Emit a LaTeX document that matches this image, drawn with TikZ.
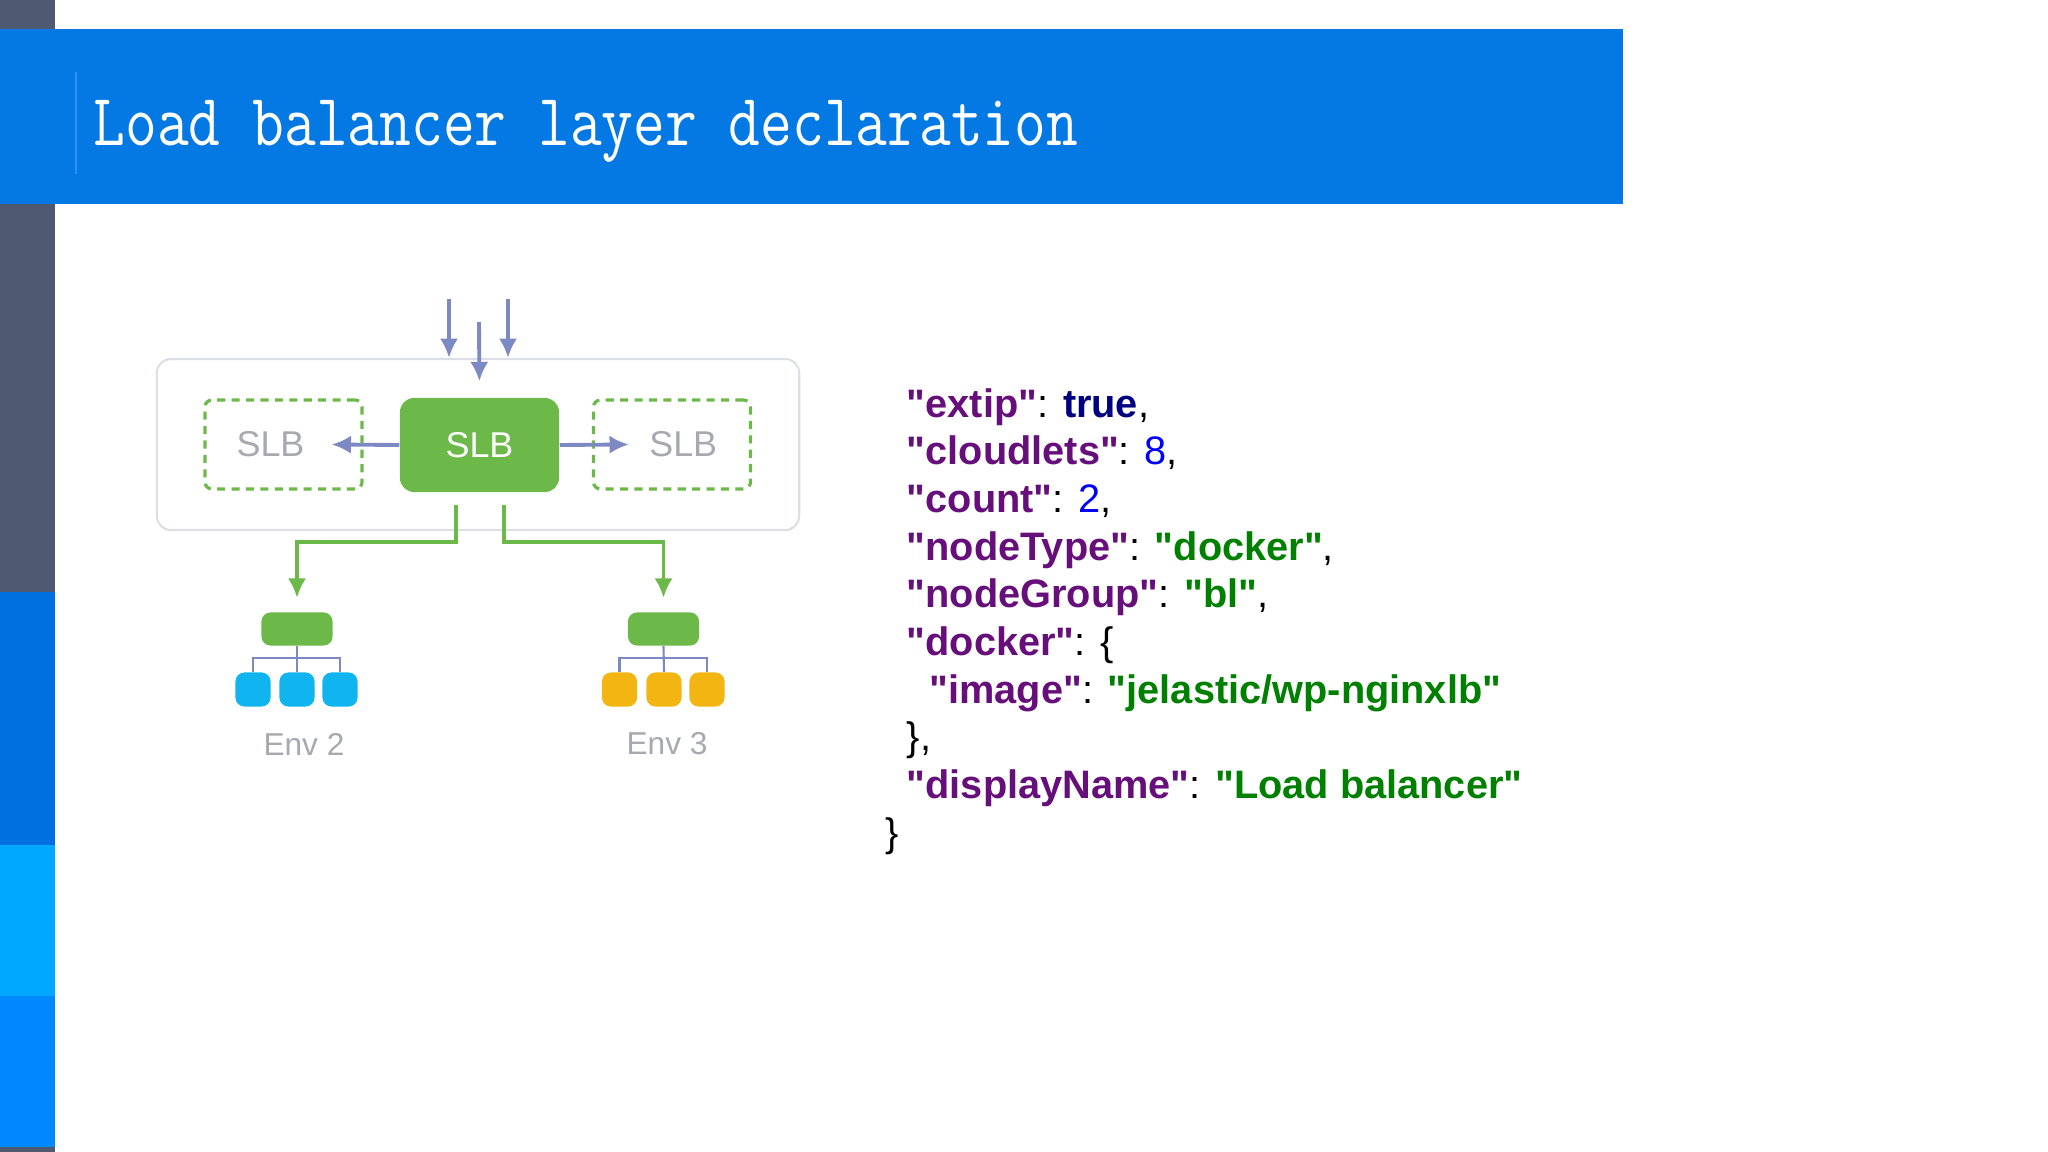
\documentclass[tikz,border=0pt]{standalone}
\usepackage{fontspec}
\usepackage{graphicx}
\setmainfont{Liberation Sans}
\usetikzlibrary{arrows.meta,positioning,calc}
\definecolor{SlideGrey}{HTML}{4F5A72}
\definecolor{SlideBlue}{HTML}{0070E0}
\definecolor{SlideSky}{HTML}{00A8FF}
\definecolor{SlideMid}{HTML}{0088FF}
\definecolor{HeadBlue}{HTML}{0479E4}
\definecolor{HeadRule}{HTML}{2C92F4}
\definecolor{LbGreen}{HTML}{6CB94A}
\definecolor{LinkSlate}{HTML}{7D89C2}
\definecolor{FrameGrey}{HTML}{DCDFE5}
\definecolor{LabelGrey}{HTML}{A7A9B0}
\definecolor{NodeBlue}{HTML}{10B5F0}
\definecolor{NodeAmber}{HTML}{F3B512}
\definecolor{JsonKey}{HTML}{660E7A}
\definecolor{JsonBool}{HTML}{000080}
\definecolor{JsonNum}{HTML}{0000FF}
\definecolor{JsonStr}{HTML}{008000}

\newcommand{\jkey}[1]{\textcolor{JsonKey}{\textbf{\textquotedbl#1\textquotedbl}}}
\newcommand{\jstr}[1]{\textcolor{JsonStr}{\textbf{\textquotedbl#1\textquotedbl}}}

\begin{document}
\begin{tikzpicture}[x=0.01cm, y=-0.01cm, node distance=0.25cm,
    lbframe/.style={draw=FrameGrey, line width=0.6pt, rounded corners=4pt, minimum width=6.42cm, minimum height=1.71cm, inner sep=0pt},
    slbmain/.style={fill=LbGreen, rounded corners=4pt, minimum width=1.59cm, minimum height=0.94cm, text=white, font=\fontsize{10.2}{12}\selectfont},
    slbspare/.style={draw=LbGreen, dash pattern=on 2.3pt off 1.8pt, line width=0.9pt, rounded corners=2pt, minimum width=1.57cm, minimum height=0.89cm, text=LabelGrey, font=\fontsize{10.2}{12}\selectfont},
    inarrow/.style={draw=LinkSlate, line width=1.1pt, -{Latex[length=5.5pt,width=5.2pt]}},
    envlink/.style={draw=LbGreen, line width=1.1pt, -{Latex[length=5.5pt,width=5.2pt]}},
    envhead/.style={fill=LbGreen, rounded corners=2.5pt, minimum width=0.71cm, minimum height=0.33cm, inner sep=0pt},
    envbox/.style={rounded corners=2.5pt, minimum width=0.35cm, minimum height=0.34cm, inner sep=0pt},
    treeline/.style={draw=LinkSlate, line width=0.6pt},
    envlabel/.style={text=LabelGrey, font=\fontsize{9}{11}\selectfont},
    codeblock/.style={align=left, inner sep=0pt, font=\fontsize{11.3}{13.55}\selectfont}]
  \useasboundingbox (0,0) rectangle (2048,1152);
  % side bar and title band
  \fill[SlideGrey] (0,0) rectangle (55,1152);
  \fill[SlideBlue] (0,592) rectangle (55,845);
  \fill[SlideSky] (0,845) rectangle (55,996);
  \fill[SlideMid] (0,996) rectangle (55,1147);
  \fill[HeadBlue] (0,29) rectangle (1623,204);
  \draw[HeadRule, line width=0.6pt] (76,72) -- (76,174);
  \node[anchor=base west, inner sep=0pt, text=white, font=\ttfamily\fontsize{21}{24}\selectfont] (title) at (93,146) {\scalebox{0.835}[1]{Load balancer layer declaration}};

  % load balancer layer
  \node[lbframe] (frame) at (478,444.5) {};
  \node[slbmain] (slb) at (479.5,445) {SLB};
  \node[slbspare] (spareL) at (283.5,444.5) {SLB\kern7.4pt};
  \node[slbspare] (spareR) at (672,444.5) {\kern6.4pt SLB};
  \coordinate (in1) at (449,299);
  \coordinate (in2) at (479,322);
  \coordinate (in3) at (508,299);
  \draw[inarrow] (in1) -- (in1 |- frame.north);
  \draw[inarrow, shorten >=0.16cm] (in2) -- (slb.north);
  \draw[inarrow] (in3) -- (in3 |- frame.north);
  \draw[inarrow] (slb.west) -- ($(spareL.east)+(-32,0)$);
  \draw[inarrow] (slb.east) -- ($(spareR.west)+(37,0)$);

  % environments
  \node[envhead] (envL) at (297,629) {};
  \node[envhead] (envR) at (663.5,629) {};
  \foreach \i/\x in {1/253,2/297,3/340}
    \node[envbox, fill=NodeBlue] (l\i) at (\x,689.5) {};
  \foreach \i/\x in {1/619.5,2/664,3/707}
    \node[envbox, fill=NodeAmber] (r\i) at (\x,689.5) {};
  \draw[envlink, shorten >=0.14cm] ($(slb.south)+(-23.5,12)$) |- ($(envL.north)+(0,-70)$) -- (envL.north);
  \draw[envlink, shorten >=0.14cm] ($(slb.south)+(24.5,12)$) |- ($(envR.north)+(0,-70)$) -- (envR.north);
  \draw[treeline] (envL.south) -- (l2.north);
  \draw[treeline] (l1.north) -- ++(0,-14) -| (l3.north);
  \draw[treeline] (envR.south) -- (r2.north);
  \draw[treeline] (r1.north) -- ++(0,-14) -| (r3.north);
  \node[envlabel] (envLname) at (304,744) {Env 2};
  \node[envlabel] (envRname) at (667,744) {Env 3};

  % json
  \node[codeblock, anchor=base west] (json) at (885,846) {%
    \hspace*{6pt}\jkey{extip}: \textcolor{JsonBool}{\textbf{true}},\\
    \hspace*{6pt}\jkey{cloudlets}: \textcolor{JsonNum}{8},\\
    \hspace*{6pt}\jkey{count}: \textcolor{JsonNum}{2},\\
    \hspace*{6pt}\jkey{nodeType}: \jstr{docker},\\
    \hspace*{6pt}\jkey{nodeGroup}: \jstr{bl},\\
    \hspace*{6pt}\jkey{docker}: \{\\
    \hspace*{12.5pt}\jkey{image}: \jstr{jelastic/wp-nginxlb}\\
    \hspace*{6pt}\},\\
    \hspace*{6pt}\jkey{displayName}: \jstr{Load balancer}\\
    \}};
\end{tikzpicture}
\end{document}
